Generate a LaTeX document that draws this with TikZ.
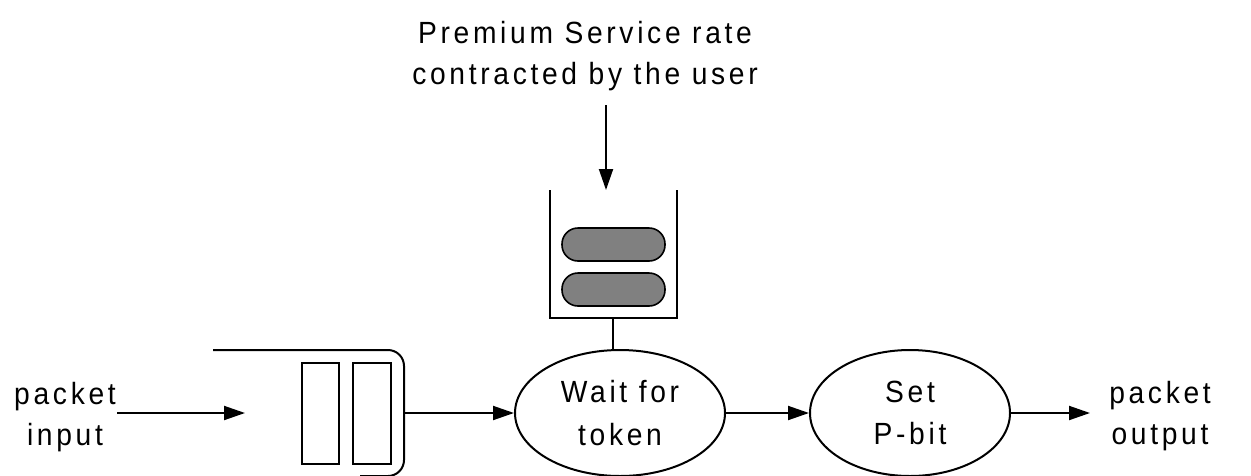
\documentclass[tikz,border=0pt]{standalone}
\usepackage{fontspec}
\setmainfont{Liberation Sans}[LetterSpace=12,FakeStretch=0.92]
\usetikzlibrary{arrows.meta,shapes.geometric}
\begin{document}
\begin{tikzpicture}[x=0.75pt,y=-0.75pt,line width=1.5pt,
  arr/.style={-{Triangle[length=15.75pt,width=10.5pt]}},
  lbl/.style={align=center,inner sep=0pt,font=\fontsize{23}{31}\selectfont},
  proc/.style={ellipse,draw,align=center,inner sep=0pt,font=\fontsize{23}{32}\selectfont},
  tokenpill/.style={draw,fill=black!50,line width=1.2pt,rounded corners=12pt}]
\useasboundingbox (0,0) rectangle (1251,475);
\clip (0,0) rectangle (1251,475);
% labels
\node[lbl] (rate) at (585,56) {Premium Service rate\\contracted by the user};
\node[lbl] (pin) at (65,417) {packet\\input};
\node[lbl] (pout) at (1160,416) {packet\\output};
% process ellipses
\node[proc,minimum width=157.5pt,minimum height=94.5pt] (wait) at (620,413) {Wait for\\token};
\node[proc,minimum width=150pt,minimum height=94.5pt] (set) at (910,413) {Set\\P-bit};
% token bucket
\draw (550,190) -- (550,318) -- (677,318) -- (677,190);
\draw[tokenpill] (562,228) rectangle (665,261);
\draw[tokenpill] (562,273) rectangle (665,306);
\coordinate (bucketbot) at (613,318);
\coordinate (rateend) at (606,105);
\coordinate (buckettop) at (606,190);
% packet queue
\draw[rounded corners=12pt] (213,350) -- (404,350) -- (404,476) -- (360,476);
\draw (302,363) rectangle (339,464);
\draw (353,363) rectangle (391,464);
\coordinate (qin) at (245,413);
\coordinate (qout) at (404,413);
\coordinate (pinend) at (117,413);
\coordinate (poutend) at (1090,413);
% connectors
\draw[arr] (rateend) -- (buckettop);
\draw[arr] (pinend) -- (qin);
\draw[arr] (qout) -- (wait.west);
\draw (bucketbot) -- (wait.north -| bucketbot);
\draw[arr] (wait.east) -- (set.west);
\draw[arr] (set.east) -- (poutend);
\end{tikzpicture}
\end{document}
